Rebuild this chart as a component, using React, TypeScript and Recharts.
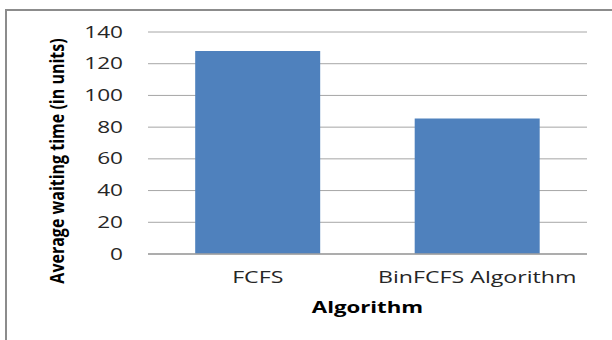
import React from 'react';
import { BarChart, Bar, XAxis, YAxis, CartesianGrid, Label } from 'recharts';

const categories = ['FCFS', 'BinFCFS Algorithm'];
const waitingTimes = [128, 85.5];
const yTicks = [0, 20, 40, 60, 80, 100, 120, 140];
const yAxisTitle = 'Average waiting time (in units)';
const xAxisTitle = 'Algorithm';

const data = categories.map((name, i) => ({ name, value: waitingTimes[i] }));

const FONT = '"Open Sans", "DejaVu Sans", sans-serif';

const YTick = (props: any) => {
  const { x, y, payload } = props;
  return (
    <g transform={`translate(${x},${y}) scale(1.46,1)`}>
      <text x={0} y={0} dy="0.36em" textAnchor="end" fontFamily={FONT} fontSize={15.5} fill="#262626">
        {payload.value}
      </text>
    </g>
  );
};

const XTick = (props: any) => {
  const { x, y, payload } = props;
  return (
    <g transform={`translate(${x},${y}) scale(1.45,1)`}>
      <text x={0} y={0} dy="0.72em" textAnchor="middle" fontFamily={FONT} fontSize={16} fill="#262626">
        {payload.value}
      </text>
    </g>
  );
};

const XTitle = (props: any) => {
  const vb = props.viewBox || { x: 0, y: 0, width: 0, height: 0 };
  const cx = vb.x + vb.width / 2;
  const cy = vb.y + 59;
  return (
    <g transform={`translate(${cx},${cy}) scale(1.39,1)`}>
      <text x={0} y={0} textAnchor="middle" fontFamily={FONT} fontWeight="bold" fontSize={16} fill="#000">
        {xAxisTitle}
      </text>
    </g>
  );
};

const YTitle = (props: any) => {
  const vb = props.viewBox || { x: 0, y: 0, width: 0, height: 0 };
  const cx = vb.x + 57;
  const cy = vb.y + vb.height / 2 + 18;
  return (
    <g transform={`translate(${cx},${cy}) scale(1.25,1) rotate(-90)`}>
      <text x={0} y={0} dy="0.36em" textAnchor="middle" fontFamily={FONT} fontWeight="bold" fontSize={16} fill="#000">
        {yAxisTitle}
      </text>
    </g>
  );
};

export default function App() {
  return (
    <div style={{ position: 'absolute', left: 0, top: 0, width: 612, height: 340, overflow: 'hidden', background: '#fff' }}>
      <div
        style={{
          position: 'absolute',
          left: 5,
          top: 9,
          width: 700,
          height: 400,
          borderLeft: '2px solid #8c8c8c',
          borderTop: '2px solid #8c8c8c',
        }}
      />
      <div style={{ position: 'absolute', left: 0, top: 0 }}>
        <BarChart
          width={612}
          height={340}
          data={data}
          margin={{ top: 32, right: 25, bottom: 26, left: 0 }}
          barCategoryGap="21.5%"
        >
          <CartesianGrid vertical={false} stroke="#a6a6a6" strokeWidth={1} />
          <XAxis
            dataKey="name"
            height={60}
            tickLine={false}
            tickSize={0}
            tickMargin={17}
            axisLine={{ stroke: '#a0a0a0', strokeWidth: 1.5 }}
            tick={<XTick />}
            interval={0}
          >
            <Label content={<XTitle />} />
          </XAxis>
          <YAxis
            width={148}
            domain={[0, 140]}
            ticks={yTicks}
            interval={0}
            tickLine={false}
            axisLine={false}
            tickSize={0}
            tickMargin={25}
            tick={<YTick />}
          >
            <Label content={<YTitle />} />
          </YAxis>
          <Bar dataKey="value" fill="#4f81bd" isAnimationActive={false} />
        </BarChart>
      </div>
    </div>
  );
}
